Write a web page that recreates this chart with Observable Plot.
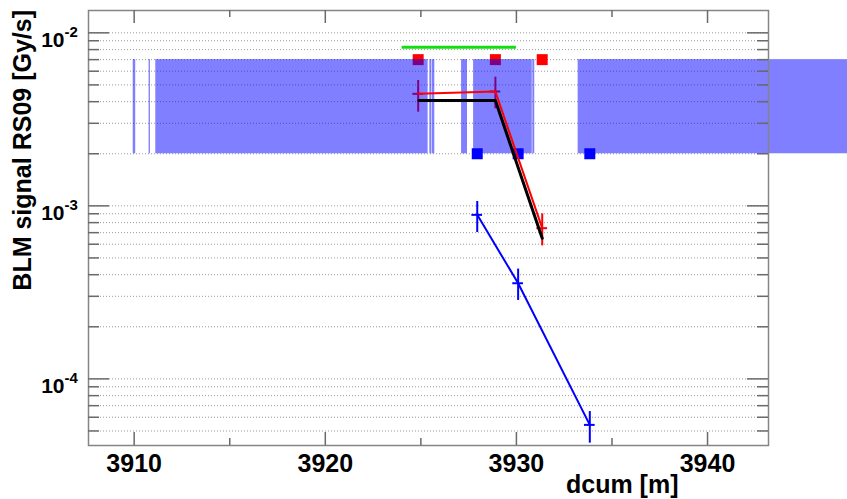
<!DOCTYPE html>
<html>
<head>
<meta charset="utf-8">
<script src="https://cdn.jsdelivr.net/npm/d3@7"></script>
<script src="https://cdn.jsdelivr.net/npm/@observablehq/plot@0.6"></script>
<style>
  html, body { margin: 0; padding: 0; background: #fff; }
  #chart svg { display: block; }
</style>
</head>
<body>
<div id="chart"></div>
<script>
// BLM signal along dcum: monitor readings with error bars and the coverage band.

// Red series (measured), with vertical error limits
const redX  = [3924.86, 3928.90, 3931.35];
const redY  = [4.44e-3, 4.58e-3, 7.43e-4];
const redLo = [3.48e-3, 3.64e-3, 5.87e-4];
const redHi = [5.30e-3, 5.54e-3, 8.99e-4];

// Black series (expected)
const blackX = [3924.90, 3928.90, 3931.35];
const blackY = [4.06e-3, 4.06e-3, 6.50e-4];

// Blue series, with vertical error limits
const blueX  = [3927.95, 3930.09, 3933.84];
const blueY  = [8.87e-4, 3.57e-4, 5.42e-5];
const blueLo = [7.01e-4, 2.84e-4, 4.25e-5];
const blueHi = [1.06e-3, 4.31e-4, 6.47e-5];

// Half width of the horizontal error segment [m]
const xErr = 0.28;

// Monitor positions flagged at the top (red) and bottom (blue) of the band
const redFlagY = 7e-3;
const blueFlagY = 2e-3;

// Coverage band segments along dcum [m]
const bandStart = [3909.95, 3910.78, 3911.13, 3925.47, 3925.59, 3927.13, 3927.76, 3930.86, 3933.23];
const bandEnd   = [3910.08, 3910.85, 3925.38, 3925.56, 3925.73, 3927.44, 3930.83, 3930.96, 3948.00];
const bandLow = 2e-3;
const bandHigh = 7e-3;

// Green marker segment
const greenX = [3924.02, 3930.00];
const greenY = 8.26e-3;

// Axis ticks
const xMajorTicks = [3910, 3920, 3930, 3940];
const xMinorTicks = [3915, 3925, 3935];
const yMajorTicks = [1e-4, 1e-3, 1e-2];
const yMultipliers = [2, 3, 4, 5, 6, 7, 8, 9];
const yDecades = [1e-5, 1e-4, 1e-3];

const xDomain = [3907.61, 3943.19];
const yDomain = [4.12e-5, 1.346e-2];

const yMinorTicks = yDecades.flatMap(d => yMultipliers.map(m => m * d))
  .filter(v => v > yDomain[0] && v < yDomain[1]);
const yAllTicks = [...yMajorTicks, ...yMinorTicks];

const red = redX.map((x, i) => ({x, y: redY[i], lo: redLo[i], hi: redHi[i]}));
const black = blackX.map((x, i) => ({x, y: blackY[i]}));
const blue = blueX.map((x, i) => ({x, y: blueY[i], lo: blueLo[i], hi: blueHi[i]}));
const band = bandStart.map((s, i) => ({x1: s, x2: bandEnd[i], y1: bandLow, y2: bandHigh}));

const W = 847, H = 499;
const mL = 88, mR = 79, mT = 10, mB = 54;
const plotW = W - mL - mR, plotH = H - mT - mB;
const font = "'Liberation Sans', Arial, Helvetica, sans-serif";
const axisColor = "#6a6a6a";

const chart = Plot.plot({
  width: W,
  height: H,
  marginLeft: mL,
  marginRight: mR,
  marginTop: mT,
  marginBottom: mB,
  x: {domain: xDomain, axis: null},
  y: {type: "log", domain: yDomain, axis: null},
  style: {fontFamily: font, background: "#fff"},
  marks: [
    // dotted horizontal grid at every y tick
    Plot.ruleY(yAllTicks, {y: d => d, stroke: "#9a9a9a", strokeWidth: 1, strokeDasharray: "1,2"}),

    // flagged monitor positions
    Plot.dot(redX, {x: d => d, y: () => redFlagY, symbol: "square", r: 6.2, fill: "#ff0000", stroke: null}),
    Plot.dot(blueX, {x: d => d, y: () => blueFlagY, symbol: "square", r: 6.2, fill: "#0000ff", stroke: null}),

    // red error bars
    Plot.ruleX(red, {x: "x", y1: "lo", y2: "hi", stroke: "#ff0000", strokeWidth: 2}),
    Plot.ruleY(red, {y: "y", x1: d => d.x - xErr, x2: d => d.x + xErr, stroke: "#ff0000", strokeWidth: 2}),

    // coverage band
    Plot.rect(band, {x1: "x1", x2: "x2", y1: "y1", y2: "y2", fill: "#0000ff", fillOpacity: 0.5}),

    // red and black curves
    Plot.line(red, {x: "x", y: "y", stroke: "#ff0000", strokeWidth: 2}),
    Plot.line(black, {x: "x", y: "y", stroke: "#000", strokeWidth: 3}),

    // blue series
    Plot.line(blue, {x: "x", y: "y", stroke: "#0000ff", strokeWidth: 2}),
    Plot.ruleX(blue, {x: "x", y1: "lo", y2: "hi", stroke: "#0000ff", strokeWidth: 2}),
    Plot.ruleY(blue, {y: "y", x1: d => d.x - xErr, x2: d => d.x + xErr, stroke: "#0000ff", strokeWidth: 2}),

    // green segment
    Plot.ruleY([greenY], {y: d => d, x1: () => greenX[0], x2: () => greenX[1], stroke: "#10e010", strokeWidth: 3}),

    // frame
    Plot.frame({stroke: "#858585", strokeWidth: 1.5}),

    // y ticks, left and right, pointing inward
    Plot.tickY(yMajorTicks, {y: d => d, insetRight: plotW - 21, stroke: axisColor, strokeWidth: 1.5}),
    Plot.tickY(yMinorTicks, {y: d => d, insetRight: plotW - 11, stroke: axisColor, strokeWidth: 1.5}),
    Plot.tickY(yMajorTicks, {y: d => d, insetLeft: plotW - 21, stroke: axisColor, strokeWidth: 1.5}),
    Plot.tickY(yMinorTicks, {y: d => d, insetLeft: plotW - 11, stroke: axisColor, strokeWidth: 1.5}),

    // x ticks, bottom and top, pointing inward
    Plot.tickX(xMajorTicks, {x: d => d, insetTop: plotH - 13, stroke: axisColor, strokeWidth: 1.5}),
    Plot.tickX(xMinorTicks, {x: d => d, insetTop: plotH - 7, stroke: axisColor, strokeWidth: 1.5}),
    Plot.tickX(xMajorTicks, {x: d => d, insetBottom: plotH - 13, stroke: axisColor, strokeWidth: 1.5}),
    Plot.tickX(xMinorTicks, {x: d => d, insetBottom: plotH - 7, stroke: axisColor, strokeWidth: 1.5}),

    // x tick labels
    Plot.text(xMajorTicks, {x: d => d, text: d => String(d), frameAnchor: "bottom", lineAnchor: "bottom",
      dy: 26, fontSize: 25, fontWeight: "bold", fill: "#000"}),

    // y tick labels: 10 with exponent superscript
    Plot.text(yMajorTicks, {y: d => d, text: () => "10", frameAnchor: "left", textAnchor: "end", lineAnchor: "bottom",
      dx: -24, dy: 14.5, fontSize: 21, fontWeight: "bold", fill: "#000"}),
    Plot.text(yMajorTicks, {y: d => d, text: d => String(Math.round(Math.log10(d))), frameAnchor: "left",
      textAnchor: "start", lineAnchor: "bottom", dx: -24, dy: 4, fontSize: 15, fontWeight: "bold", fill: "#000"}),

    // axis titles
    Plot.text(["dcum [m]"], {text: d => d, frameAnchor: "bottom-right", textAnchor: "end", lineAnchor: "bottom",
      dx: -90, dy: 47, fontSize: 25, fontWeight: "bold", fill: "#000"}),
    Plot.text(["BLM signal RS09 [Gy/s]"], {text: d => d, frameAnchor: "top-left", textAnchor: "end", lineAnchor: "bottom",
      rotate: -90, dx: -57.5, dy: -0.5, fontSize: 25, fontWeight: "bold", fill: "#000"})
  ]
});

document.getElementById("chart").appendChild(chart);
</script>
</body>
</html>
